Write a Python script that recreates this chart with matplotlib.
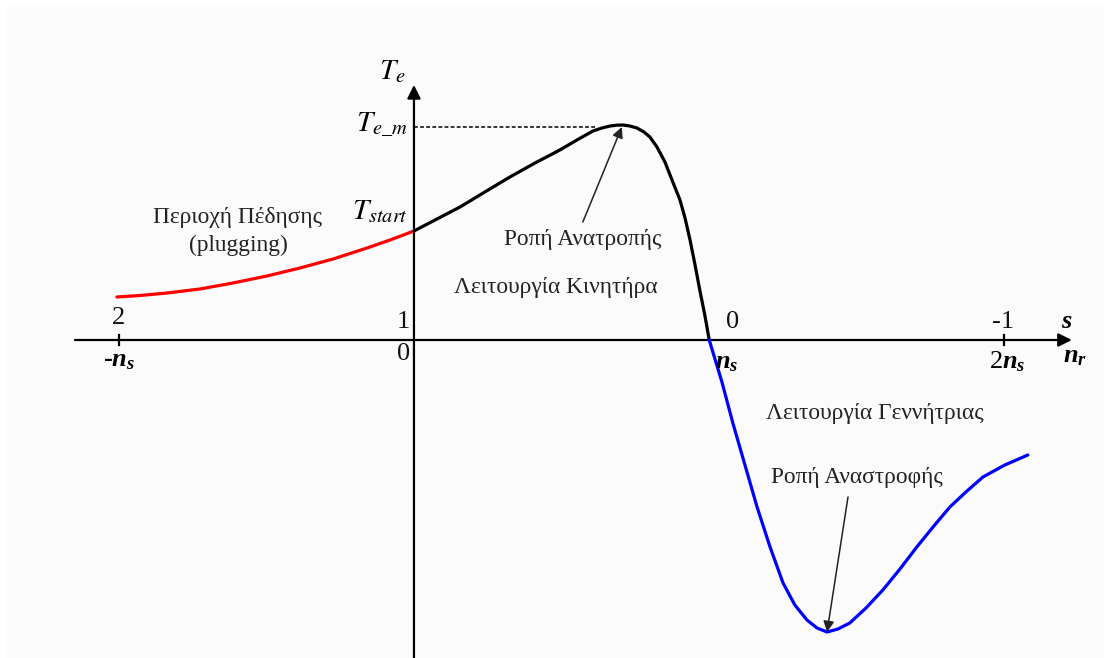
import matplotlib
matplotlib.use("Agg")
import matplotlib.pyplot as plt
from matplotlib.patches import Rectangle

# Speed in multiples of n_s, torque in arbitrary units
plug_n = [-1.006, -0.928, -0.836, -0.725, -0.613, -0.498, -0.386, -0.274, -0.159, -0.081, 0.0]
plug_T = [0.43, 0.445, 0.47, 0.51, 0.57, 0.64, 0.72, 0.81, 0.92, 1.00, 1.09]

motor_n = [0.0, 0.078, 0.156, 0.240, 0.325, 0.410, 0.494, 0.552, 0.606, 0.637, 0.664,
           0.687, 0.708, 0.731, 0.755, 0.779, 0.799, 0.823, 0.850, 0.874, 0.901, 0.918,
           0.935, 0.952, 0.968, 0.985, 1.0]
motor_T = [1.09, 1.21, 1.33, 1.48, 1.63, 1.77, 1.90, 2.00, 2.09, 2.12, 2.14,
           2.148, 2.15, 2.14, 2.12, 2.08, 2.03, 1.93, 1.78, 1.60, 1.40, 1.22,
           1.00, 0.75, 0.50, 0.25, 0.0]

gen_n = [1.0, 1.043, 1.080, 1.121, 1.162, 1.206, 1.250, 1.290, 1.331, 1.365, 1.399,
         1.436, 1.476, 1.531, 1.588, 1.646, 1.703, 1.758, 1.815, 1.873, 1.927, 2.001, 2.079]
gen_T = [0.0, -0.42, -0.83, -1.25, -1.67, -2.07, -2.43, -2.65, -2.80, -2.88, -2.92,
         -2.89, -2.83, -2.68, -2.50, -2.29, -2.07, -1.87, -1.67, -1.51, -1.37, -1.25, -1.15]

T_start = plug_T[-1]
T_em = max(motor_T)
n_peak = motor_n[motor_T.index(T_em)]
T_min = min(gen_T)
n_min = gen_n[gen_T.index(T_min)]

plt.rcParams["font.family"] = ["Liberation Serif", "DejaVu Serif"]
plt.rcParams["mathtext.fontset"] = "custom"
plt.rcParams["mathtext.it"] = "Liberation Serif:italic:bold"
plt.rcParams["mathtext.rm"] = "Liberation Serif:bold"

fig = plt.figure(figsize=(11.04, 6.58), dpi=100)
ax = fig.add_axes([0, 0, 1, 1])
ax.set_xlim(-1.402, 2.337)
ax.set_ylim(-3.18, 3.40)
ax.axis("off")
ax.add_patch(Rectangle((7 / 1104, 0), 1, 1 - 7 / 658, transform=ax.transAxes,
                       facecolor="#fbfbfb", edgecolor="none", zorder=0))

# axes with arrow heads
arrow = dict(arrowstyle="-|>", lw=1.6, color="black", mutation_scale=20, shrinkA=0, shrinkB=0)
ax.annotate("", xy=(2.228, 0), xytext=(-1.148, 0), arrowprops=arrow)
ax.annotate("", xy=(0, 2.55), xytext=(0, -3.2), arrowprops=arrow)
for xt in [-1, 2]:
    ax.plot([xt, xt], [-0.05, 0.05], color="black", lw=1.6)

# torque-speed curve
ax.plot(plug_n, plug_T, color="red", lw=2.3, solid_capstyle="round", solid_joinstyle="round", zorder=3)
ax.plot(motor_n, motor_T, color="black", lw=2.3, solid_capstyle="round", solid_joinstyle="round", zorder=3)
ax.plot(gen_n, gen_T, color="blue", lw=2.3, solid_capstyle="round", solid_joinstyle="round", zorder=3)
ax.plot([0, n_peak - 0.09], [T_em - 0.02, T_em - 0.02], color="black", lw=1.1,
        ls=(0, (2.5, 1.5)))

# axis labels
num = dict(fontsize=19, ha="center", va="center", color="#111111")
ax.text(-1.0, 0.22, "2", **num)
ax.text(-0.037, 0.18, "1", **num)
ax.text(-0.034, -0.14, "0", **num)
ax.text(1.08, 0.18, "0", **num)
ax.text(1.995, 0.18, "-1", **num)

bold = dict(fontsize=19, ha="center", va="center", fontweight="bold", math_fontfamily="custom")
ax.text(-1.0, -0.20, r"-$n_s$", **bold)
ax.text(1.06, -0.22, r"$n_s$", **bold)
ax.text(2.01, -0.22, r"2$n_s$", fontsize=19, ha="center", va="center", math_fontfamily="custom")
ax.text(2.21, 0.18, r"$s$", **bold)
ax.text(2.24, -0.17, r"$n_r$", **bold)

tlab = dict(fontsize=21, va="center", math_fontfamily="stix")
ax.text(-0.075, 2.68, r"$T_e$", ha="center", **tlab)
ax.text(-0.02, 2.15, r"$T_{e\_m}$", ha="right", **tlab)
ax.text(-0.02, 1.28, r"$T_{start}$", ha="right", **tlab)

# region labels
lab = dict(fontsize=16.8, ha="center", va="center", color="#222222")
ax.text(-0.596, 1.23, "Περιοχή Πέδησης", **lab)
ax.text(-0.596, 0.95, "(plugging)", **lab)
ax.text(0.572, 1.01, "Ροπή Ανατροπής", **lab)
ax.text(0.481, 0.53, "Λειτουργία Κινητήρα", **lab)
ax.text(1.561, -0.74, "Λειτουργία Γεννήτριας", **lab)
ax.text(1.50, -1.37, "Ροπή Αναστροφής", **lab)

pointer = dict(arrowstyle="-|>", lw=1.1, color="#222222", mutation_scale=16, shrinkA=0, shrinkB=0)
ax.annotate("", xy=(n_peak - 0.004, T_em - 0.02), xytext=(0.572, 1.18), arrowprops=pointer)
ax.annotate("", xy=(n_min, T_min), xytext=(1.470, -1.57), arrowprops=pointer)

fig.savefig("out.png", dpi=100)
